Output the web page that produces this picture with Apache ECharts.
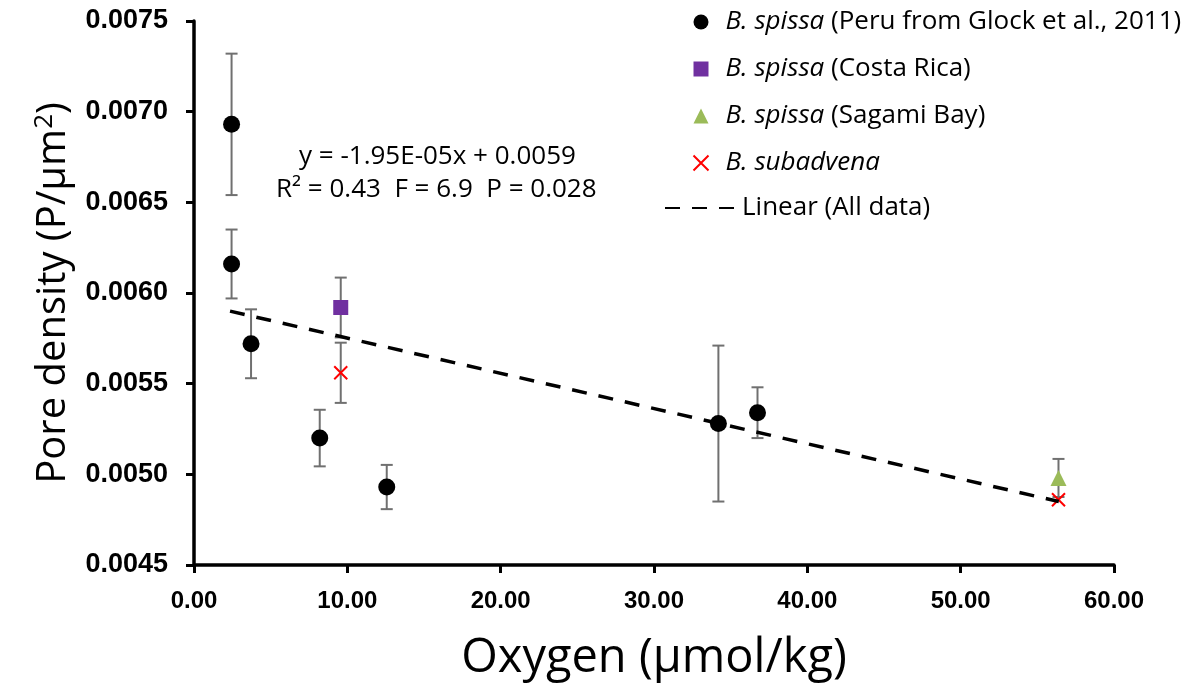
<!DOCTYPE html>
<html>
<head>
<meta charset="utf-8">
<script src="https://cdn.jsdelivr.net/npm/echarts@6/dist/echarts.min.js"></script>
<style>
  html, body { margin: 0; padding: 0; background: #fff; }
</style>
</head>
<body>
<div id="poreChart" style="width: 1194px; height: 686px;"></div>
<script>
  // [oxygen, pore density, error]
  var peru = [
    [2.45, 0.00693, 0.00039],
    [2.45, 0.00616, 0.00019],
    [3.72, 0.00572, 0.00019],
    [8.2, 0.00520, 0.000156],
    [12.57, 0.00493, 0.000122],
    [34.2, 0.00528, 0.00043],
    [36.75, 0.00534, 0.00014]
  ]
  var costaRica = [[9.57, 0.00592, 0.000165]]
  var sagami = [[56.38, 0.00498, 0.000105]]
  var subadvena = [[9.57, 0.00556, 0.000166], [56.38, 0.00486, 0]]
  var trend = [[2.35, 0.00590], [56.4, 0.00485]]
  var yTicks = [0.0045, 0.0075, 0.0005]
  var xTicks = [0, 60, 10]

  var names = [
    'B. spissa (Peru from Glock et al., 2011)',
    'B. spissa (Costa Rica)',
    'B. spissa (Sagami Bay)',
    'B. subadvena',
    'Linear (All data)'
  ]

  var errColor = '#707070'
  var axisColor = '#000'
  var textFont = '"Open Sans", "Noto Sans", sans-serif'
  var labelFont = '"Liberation Sans", Arial, sans-serif'

  function errorBars (params, api) {
    var x = api.value(0)
    var y = api.value(1)
    var e = api.value(2)
    if (!e) return null
    var top = api.coord([x, y + e])
    var bot = api.coord([x, y - e])
    var cap = 6
    var style = { stroke: errColor, lineWidth: 2 }
    return {
      type: 'group',
      children: [
        { type: 'line', shape: { x1: top[0], y1: top[1], x2: bot[0], y2: bot[1] }, style: style },
        { type: 'line', shape: { x1: top[0] - cap, y1: top[1], x2: top[0] + cap, y2: top[1] }, style: style },
        { type: 'line', shape: { x1: bot[0] - cap, y1: bot[1], x2: bot[0] + cap, y2: bot[1] }, style: style }
      ]
    }
  }

  function legendLabel (name) {
    if (name.indexOf('B. ') === 0) {
      var parts = name.match(/^(B\. \w+)(.*)$/)
      return '{i|' + parts[1] + '}{n|' + parts[2] + '}'
    }
    return name
  }

  var chart = echarts.init(document.getElementById('poreChart'))
  var option = {
    animation: false,
    grid: { left: 194, right: 80, top: 21, bottom: 121, outerBoundsMode: 'none' },
    legend: [{
      data: names.slice(0, 4),
      orient: 'vertical',
      left: 686,
      top: 2,
      itemWidth: 15,
      itemHeight: 15,
      itemGap: 17,
      formatter: legendLabel,
      textStyle: {
        fontFamily: textFont,
        fontSize: 26,
        lineHeight: 30,
        color: '#000',
        padding: [0, 0, 0, 12],
        rich: {
          i: { fontFamily: textFont, fontSize: 26, lineHeight: 30, fontStyle: 'italic', color: '#000' },
          n: { fontFamily: textFont, fontSize: 26, lineHeight: 30, color: '#000' }
        }
      }
    }, {
      data: [names[4]],
      left: 659,
      top: 188,
      itemWidth: 72,
      itemHeight: 14,
      itemStyle: { opacity: 0 },
      textStyle: { fontFamily: textFont, fontSize: 26, lineHeight: 30, color: '#000' }
    }],
    graphic: [{
      type: 'text',
      left: 299,
      top: 144,
      style: {
        text: 'y = -1.95E-05x + 0.0059',
        font: '26px ' + textFont,
        fill: '#000'
      }
    }, {
      type: 'text',
      left: 276,
      top: 177,
      style: {
        text: 'R² = 0.43  F = 6.9  P = 0.028',
        font: '26px ' + textFont,
        fill: '#000'
      }
    }],
    xAxis: {
      type: 'value',
      min: xTicks[0],
      max: xTicks[1],
      interval: xTicks[2],
      name: 'Oxygen (µmol/kg)',
      nameLocation: 'middle',
      nameGap: 70,
      nameTextStyle: { fontFamily: textFont, fontSize: 47, color: '#000' },
      axisLine: { lineStyle: { color: axisColor, width: 3.5 } },
      axisTick: { inside: false, length: 8, lineStyle: { color: axisColor, width: 3 } },
      axisLabel: {
        margin: 24,
        fontFamily: labelFont,
        fontWeight: 'bold',
        fontSize: 24,
        color: '#000',
        formatter: function (v) { return v.toFixed(2) }
      },
      splitLine: { show: false }
    },
    yAxis: {
      type: 'value',
      min: yTicks[0],
      max: yTicks[1],
      interval: yTicks[2],
      name: '{a|Pore density (P/µm}{s|2}{a|)}',
      nameLocation: 'middle',
      nameGap: 118,
      nameTextStyle: {
        rich: {
          a: { fontFamily: textFont, fontSize: 40, color: '#000' },
          s: { fontFamily: textFont, fontSize: 26, color: '#000', verticalAlign: 'top', padding: [0, 0, 18, 0] }
        }
      },
      axisLine: { lineStyle: { color: axisColor, width: 3.5 } },
      axisTick: { inside: false, length: 8, lineStyle: { color: axisColor, width: 3 } },
      axisLabel: {
        margin: 26,
        fontFamily: labelFont,
        fontWeight: 'bold',
        fontSize: 27,
        color: '#000',
        formatter: function (v) { return v.toFixed(4) }
      },
      splitLine: { show: false }
    },
    series: [{
      type: 'custom',
      renderItem: errorBars,
      data: peru.concat(costaRica, sagami, subadvena),
      z: 1,
      silent: true
    }, {
      name: names[0],
      type: 'scatter',
      symbol: 'circle',
      symbolSize: 17,
      itemStyle: { color: '#000', opacity: 1 },
      data: peru,
      z: 3
    }, {
      name: names[1],
      type: 'scatter',
      symbol: 'rect',
      symbolSize: 15,
      itemStyle: { color: '#7030A0', opacity: 1 },
      data: costaRica,
      z: 3
    }, {
      name: names[2],
      type: 'scatter',
      symbol: 'triangle',
      symbolSize: 16,
      itemStyle: { color: '#9BBB59', opacity: 1 },
      data: sagami,
      z: 3
    }, {
      name: names[3],
      type: 'scatter',
      symbol: 'path://M0,0L10,10M10,0L0,10',
      symbolSize: 13,
      itemStyle: { color: 'none', borderColor: '#FF0000', borderWidth: 2, opacity: 1 },
      data: subadvena,
      z: 3
    }, {
      name: names[4],
      type: 'line',
      symbol: 'none',
      lineStyle: { color: '#000', width: 3.5, type: [15, 12] },
      data: trend,
      z: 4
    }]
  }
  chart.setOption(option)
</script>
</body>
</html>
